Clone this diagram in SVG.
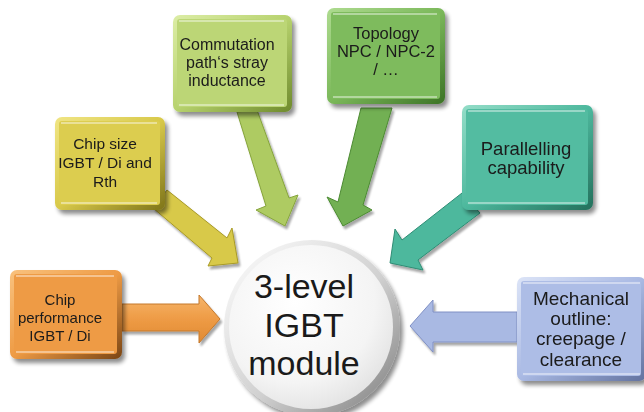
<svg xmlns="http://www.w3.org/2000/svg" width="644" height="412" viewBox="0 0 644 412">
<defs>
<filter id="sh" x="-20%" y="-20%" width="150%" height="150%">
<feGaussianBlur in="SourceAlpha" stdDeviation="2"/>
<feOffset dx="3" dy="4" result="b"/>
<feComponentTransfer><feFuncA type="linear" slope="0.45"/></feComponentTransfer>
<feMerge><feMergeNode/><feMergeNode in="SourceGraphic"/></feMerge>
</filter>
<filter id="shs" x="-20%" y="-20%" width="150%" height="150%">
<feGaussianBlur in="SourceAlpha" stdDeviation="1.2"/>
<feOffset dx="1.5" dy="2.5" result="b"/>
<feComponentTransfer><feFuncA type="linear" slope="0.35"/></feComponentTransfer>
<feMerge><feMergeNode/><feMergeNode in="SourceGraphic"/></feMerge>
</filter>
<linearGradient id="gO" x1="0" y1="0" x2="1" y2="1"><stop offset="0" stop-color="#F9C27E"/><stop offset="0.5" stop-color="#EE9B45"/><stop offset="1" stop-color="#7A4515"/></linearGradient>
<linearGradient id="gY" x1="0" y1="0" x2="1" y2="1"><stop offset="0" stop-color="#F0E584"/><stop offset="0.5" stop-color="#D8C94A"/><stop offset="1" stop-color="#7E741A"/></linearGradient>
<linearGradient id="gL" x1="0" y1="0" x2="1" y2="1"><stop offset="0" stop-color="#DCEDA6"/><stop offset="0.5" stop-color="#B7D26E"/><stop offset="1" stop-color="#6E8A2C"/></linearGradient>
<linearGradient id="gG" x1="0" y1="0" x2="1" y2="1"><stop offset="0" stop-color="#AEDB90"/><stop offset="0.5" stop-color="#7BB85A"/><stop offset="1" stop-color="#3C7326"/></linearGradient>
<linearGradient id="gT" x1="0" y1="0" x2="1" y2="1"><stop offset="0" stop-color="#94DDC8"/><stop offset="0.5" stop-color="#4DB89D"/><stop offset="1" stop-color="#24705C"/></linearGradient>
<linearGradient id="gB" x1="0" y1="0" x2="1" y2="1"><stop offset="0" stop-color="#DCE4F7"/><stop offset="0.5" stop-color="#A9B9E3"/><stop offset="1" stop-color="#62729F"/></linearGradient>
<linearGradient id="aO" x1="0" y1="0" x2="0" y2="1"><stop offset="0" stop-color="#F6B56A"/><stop offset="0.5" stop-color="#EE9B45"/><stop offset="1" stop-color="#E08A33"/></linearGradient>
<radialGradient id="cg" cx="0.4" cy="0.35" r="0.7"><stop offset="0" stop-color="#FFFFFF"/><stop offset="0.7" stop-color="#F4F4F4"/><stop offset="1" stop-color="#E2E2E2"/></radialGradient>
<linearGradient id="cr" x1="0" y1="0" x2="1" y2="1"><stop offset="0" stop-color="#FFFFFF"/><stop offset="0.55" stop-color="#D0D0D0"/><stop offset="1" stop-color="#7A7A7A"/></linearGradient>
</defs>
<style>
text{font-family:"Liberation Sans",Arial,sans-serif;fill:#1A1A1A;text-anchor:middle}
.hl{fill:none;stroke:#FFFFFF;stroke-opacity:0.55;stroke-width:1.5}
.ar{stroke-width:1;stroke-linejoin:round;filter:url(#shs)}
</style>

<g id="connectors">
<polygon class="ar" points="122,304 199,304 199,295 220,319 199,343 199,331 122,331" fill="url(#aO)" stroke="#C4782C"/>
<polygon class="ar" points="167,190 227,238 232,228 238,263 208,266 212,258 153,208" fill="#D8C94A" stroke="#A89A26"/>
<polygon class="ar" points="237,112 266,206 256,210 285,226 298,195 289,198 257,110" fill="#AECB62" stroke="#86A43C"/>
<polygon class="ar" points="361,108 338,202 327,197 343,226 372,210 363,205 392,108" fill="#72B052" stroke="#4C8A32"/>
<polygon class="ar" points="462,193 480,213 418,260 423,270 390,263 395,229 402,240" fill="#4DB89D" stroke="#2F8C74"/>
<polygon class="ar" points="517,312 433,312 433,300 410,326 433,352 433,342 517,342" fill="#A9B9E3" stroke="#8090C4"/>
</g>

<g id="chip-performance" filter="url(#sh)">
<rect x="10" y="270" width="112" height="89" rx="7" fill="url(#gO)"/>
<rect x="14" y="274" width="103" height="80" rx="3" fill="#EE9B45"/>
<line class="hl" x1="16" y1="276" x2="114" y2="276"/>
<line class="hl" x1="16" y1="352" x2="114" y2="352"/>
<text font-size="15" x="60" y="305">Chip</text>
<text font-size="15" x="60" y="323">performance</text>
<text font-size="15" x="60" y="341">IGBT / Di</text>
</g>

<g id="chip-size" filter="url(#sh)">
<rect x="55" y="117" width="110" height="93" rx="7" fill="url(#gY)"/>
<rect x="59" y="121" width="101" height="84" rx="3" fill="#DCCD50"/>
<line class="hl" x1="61" y1="123" x2="157" y2="123"/>
<line class="hl" x1="61" y1="203" x2="157" y2="203"/>
<text font-size="15.5" x="105" y="149">Chip size</text>
<text font-size="15.5" x="105" y="168">IGBT / Di and</text>
<text font-size="15.5" x="105" y="187">Rth</text>
</g>

<g id="commutation" filter="url(#sh)">
<rect x="173" y="15" width="119" height="97" rx="7" fill="url(#gL)"/>
<rect x="177" y="19" width="110" height="88" rx="3" fill="#BCD676"/>
<line class="hl" x1="179" y1="21" x2="284" y2="21"/>
<line class="hl" x1="179" y1="105" x2="284" y2="105"/>
<text font-size="16" x="227" y="50">Commutation</text>
<text font-size="16" x="227" y="68">path‘s stray</text>
<text font-size="16" x="227" y="86">inductance</text>
</g>

<g id="topology" filter="url(#sh)">
<rect x="327" y="8" width="118" height="96" rx="7" fill="url(#gG)"/>
<rect x="331" y="12" width="109" height="87" rx="3" fill="#7EBB5D"/>
<line class="hl" x1="333" y1="14" x2="437" y2="14"/>
<line class="hl" x1="333" y1="97" x2="437" y2="97"/>
<text font-size="16.5" x="386" y="39">Topology</text>
<text font-size="16.5" x="386" y="57">NPC / NPC-2</text>
<text font-size="16.5" x="386" y="75">/ …</text>
</g>

<g id="parallelling" filter="url(#sh)">
<rect x="462" y="105" width="131" height="105" rx="7" fill="url(#gT)"/>
<rect x="466" y="109" width="122" height="96" rx="3" fill="#52BCA1"/>
<line class="hl" x1="468" y1="111" x2="585" y2="111"/>
<line class="hl" x1="468" y1="203" x2="585" y2="203"/>
<text font-size="18.5" x="526" y="155">Parallelling</text>
<text font-size="18.5" x="526" y="174">capability</text>
</g>

<g id="mechanical" filter="url(#sh)">
<rect x="517" y="277" width="129" height="104" rx="7" fill="url(#gB)"/>
<rect x="521" y="281" width="120" height="95" rx="3" fill="#ADBDE6"/>
<line class="hl" x1="523" y1="283" x2="640" y2="283"/>
<line class="hl" x1="523" y1="374" x2="640" y2="374"/>
<text font-size="19" x="581" y="305">Mechanical</text>
<text font-size="19" x="581" y="325">outline:</text>
<text font-size="19" x="581" y="345">creepage /</text>
<text font-size="19" x="581" y="366">clearance</text>
</g>

<g id="igbt-module">
<circle cx="312" cy="328" r="88" fill="url(#cr)" filter="url(#sh)"/>
<circle cx="311" cy="327" r="82" fill="url(#cg)"/>
<text font-size="34" x="304" y="298">3-level</text>
<text font-size="34" x="304" y="337">IGBT</text>
<text font-size="34" x="304" y="375">module</text>
</g>
</svg>
